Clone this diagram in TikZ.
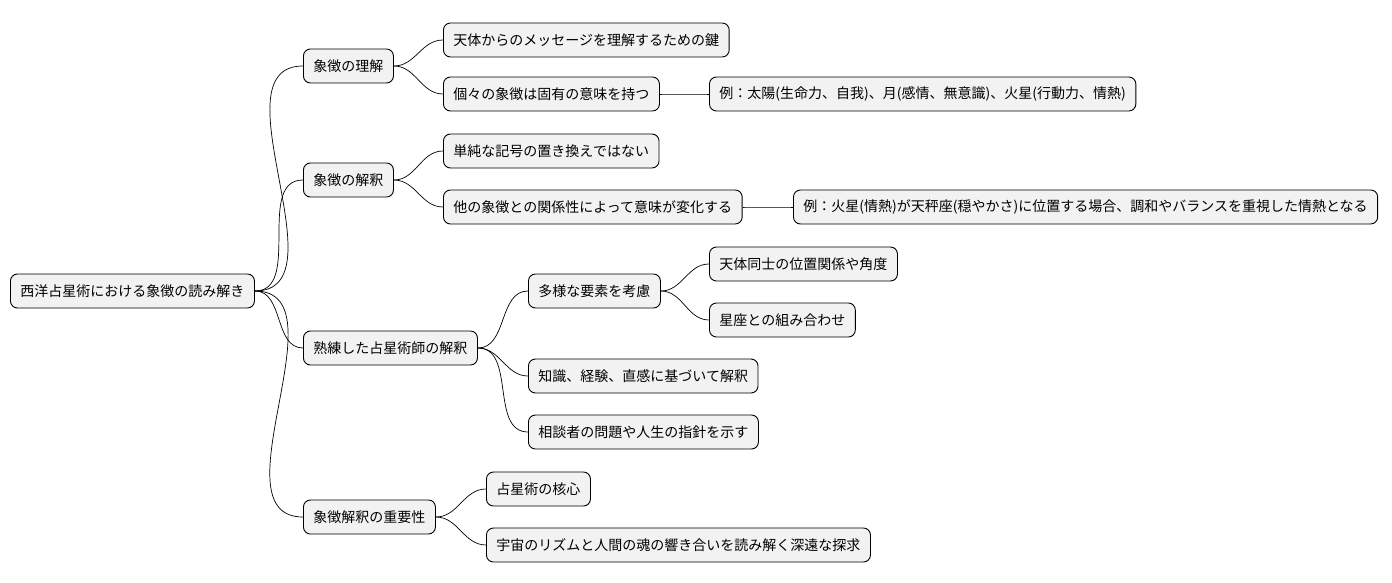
\documentclass[tikz,border=0pt]{standalone}
\usepackage{fontspec}
\setmainfont{Noto Sans CJK JP}
\begin{document}
\begin{tikzpicture}[x=1pt,y=1pt]
    	\tikzstyle{box}=[draw=black, fill=gray!10, rounded corners=7pt, anchor=west, minimum height=34pt, inner xsep=10pt, font=\fontsize{14}{16}\selectfont, line width=0.9pt]
    	\tikzstyle{link}=[black, line width=0.7pt]
    	\useasboundingbox (0,0) rectangle (1392,-583);
    	\node [box] (root) at (10,-291) {西洋占星術における象徴の読み解き};
    	\node [box] (a) at (303,-66) {象徴の理解};
    	\node [box] (b) at (303,-180) {象徴の解釈};
    	\node [box] (c) at (303,-348) {熟練した占星術師の解釈};
    	\node [box] (d) at (303,-517) {象徴解釈の重要性};
    	\node [box] (a1) at (443,-40) {天体からのメッセージを理解するための鍵};
    	\node [box] (a2) at (443,-94) {個々の象徴は固有の意味を持つ};
    	\node [box] (a2x) at (709,-94) {例：太陽(生命力、自我)、月(感情、無意識)、火星(行動力、情熱)};
    	\node [box] (b1) at (443,-151) {単純な記号の置き換えではない};
    	\node [box] (b2) at (443,-207) {他の象徴との関係性によって意味が変化する};
    	\node [box] (b2x) at (793,-207) {例：火星(情熱)が天秤座(穏やかさ)に位置する場合、調和やバランスを重視した情熱となる};
    	\node [box] (c1) at (528,-291) {多様な要素を考慮};
    	\node [box] (c1a) at (709,-264) {天体同士の位置関係や角度};
    	\node [box] (c1b) at (709,-320) {星座との組み合わせ};
    	\node [box] (c2) at (528,-376) {知識、経験、直感に基づいて解釈};
    	\node [box] (c3) at (528,-432) {相談者の問題や人生の指針を示す};
    	\node [box] (d1) at (486,-489) {占星術の核心};
    	\node [box] (d2) at (486,-545) {宇宙のリズムと人間の魂の響き合いを読み解く深遠な探求};
    	\foreach \p/\c in {root/a, root/b, root/c, root/d, a/a1, a/a2, a2/a2x, b/b1, b/b2, b2/b2x, c/c1, c/c2, c/c3, c1/c1a, c1/c1b, d/d1, d/d2}
    	    \draw [link] (\p.east) to [out=0, in=180] (\c.west);
\end{tikzpicture}
\end{document}
